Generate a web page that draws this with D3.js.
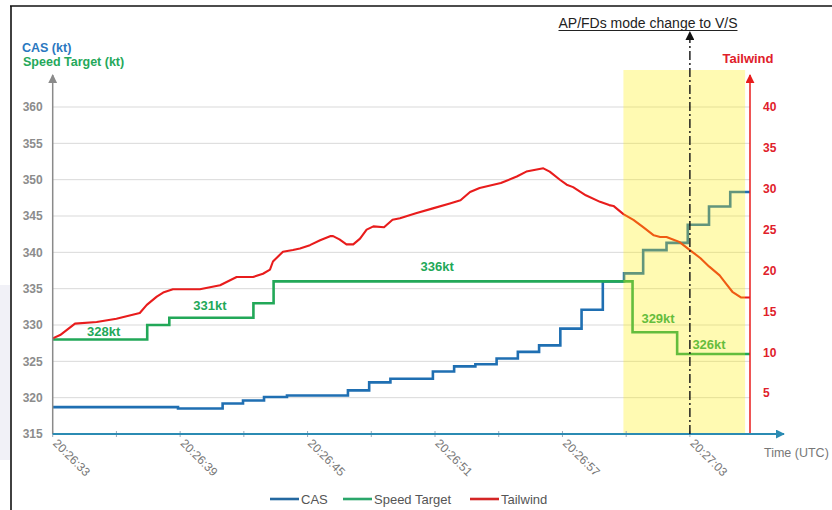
<!DOCTYPE html>
<html>
<head>
<meta charset="utf-8">
<script src="https://cdn.jsdelivr.net/npm/d3@7"></script>
<style>
  html, body { margin: 0; padding: 0; background: #fff; }
  svg { display: block; font-family: "Liberation Sans", Arial, sans-serif; }
</style>
</head>
<body>
<svg id="chart" width="832" height="510"></svg>
<script>
// ---- data (times are seconds after 20:26:33 UTC) ----
const startClock = [20, 26, 33];
const xTickLabels = ["20:26:33", "20:26:39", "20:26:45", "20:26:51", "20:26:57", "20:27:03"];
const xMinorTickSeconds = [0, 3, 6, 9, 12, 15, 18, 21, 24, 27, 30];
const endSeconds = 32.83;

const leftTicks = [315, 320, 325, 330, 335, 340, 345, 350, 355, 360];
const rightTicks = [5, 10, 15, 20, 25, 30, 35, 40];

// calibrated airspeed, step changes
const casTimes  = [0, 5.9, 8.0, 8.96, 9.95, 11.03, 13.9, 14.9, 15.9, 17.9, 18.9, 19.9, 20.9, 21.9, 22.9, 23.9, 24.9, 25.9, 26.9, 27.8, 28.9, 29.9, 30.9, 31.9, 32.83];
const casValues = [318.7, 318.5, 319.2, 319.6, 320.1, 320.3, 321.0, 322.1, 322.6, 323.6, 324.3, 324.6, 325.4, 326.3, 327.2, 329.5, 332.1, 336.0, 337.1, 340.3, 341.3, 343.8, 346.3, 348.3, 348.3];

// selected speed target, step changes
const targetTimes  = [0, 4.45, 5.49, 9.45, 10.4, 27.3, 29.4, 32.83];
const targetValues = [328, 330, 331, 333, 336, 329, 326, 326];

// speed target annotations
const targetLabels = ["328kt", "331kt", "336kt", "329kt", "326kt"];
const targetLabelTimes = [2.4, 7.4, 18.1, 28.5, 30.9];

// tailwind component (kt)
const windTimes = [0, 0.35, 0.7, 1.05, 2.07, 3.0, 4.1, 4.43, 4.9, 5.2, 5.66, 6.93, 7.88, 8.66, 9.43, 9.9, 10.23, 10.37, 10.84, 11.31, 11.64, 12.11, 12.59, 13.06, 13.2, 13.5, 13.83, 14.15, 14.47, 14.78, 15.1, 15.6, 16.0, 16.35, 17.1, 17.9, 18.7, 19.2, 19.65, 20.1, 21.1, 21.85, 22.3, 23.1, 23.4, 23.88, 24.2, 24.5, 25.1, 25.77, 26.2, 26.4, 26.87, 27.34, 27.8, 28.3, 28.6, 28.9, 29.2, 29.5, 30.0, 30.5, 30.9, 31.4, 31.7, 32.0, 32.4, 32.83];
const windValues = [11.7, 12.1, 12.8, 13.5, 13.7, 14.1, 14.8, 15.8, 16.8, 17.3, 17.7, 17.7, 18.2, 19.2, 19.2, 19.6, 20.1, 21.1, 22.3, 22.5, 22.7, 23.1, 23.7, 24.2, 24.2, 23.8, 23.2, 23.2, 23.9, 25.0, 25.4, 25.3, 26.2, 26.4, 27.0, 27.6, 28.2, 28.6, 29.6, 30.1, 30.7, 31.5, 32.1, 32.5, 32.1, 31.1, 30.5, 30.2, 29.2, 28.4, 28.0, 27.9, 26.9, 26.2, 25.3, 24.3, 24.1, 24.1, 23.8, 23.5, 22.5, 21.5, 20.5, 19.4, 18.4, 17.4, 16.7, 16.7];

// highlighted interval and mode-change event
const highlightSeconds = [26.87, 32.6];
const eventSecond = 30.0;
const eventLabel = "AP/FDs mode change to V/S";

const legendNames = ["CAS", "Speed Target", "Tailwind"];

// ---- styling ----
const C = {
  cas: "#1f6fb2", target: "#22a858", wind: "#e81c1c",
  grid: "#d9d9d9", leftAxis: "#8a8a8a", xAxis: "#2b8bb3",
  windText: "#e0202a",
  legendCas: "#2468a0", legendTarget: "#2aa66a", legendWind: "#d42525"
};
const labelLift = [7, 10.7, 14, 12.7, 9];

const svg = d3.select("#chart");
const base = Date.UTC(2000, 0, 1, startClock[0], startClock[1], startClock[2]);
const toDate = s => new Date(base + s * 1000);

const x = d3.scaleUtc().domain([toDate(0), toDate(endSeconds)]).range([52.7, 750]);
const yL = d3.scaleLinear().domain([315, 360]).range([434, 107]);
const yR = d3.scaleLinear().domain([0, 40]).range([434, 107]);

// outer frame and faint page tint
svg.append("rect").attr("x", 0).attr("y", 285).attr("width", 10).attr("height", 175).attr("fill", "#f1f1f7");
svg.append("line").attr("x1", 10).attr("x2", 832).attr("y1", 6).attr("y2", 6).attr("stroke", "#111").attr("stroke-width", 1.6);
svg.append("line").attr("x1", 11).attr("x2", 11).attr("y1", 6).attr("y2", 510).attr("stroke", "#111").attr("stroke-width", 1.6);

// gridlines
svg.append("g").selectAll("line").data(leftTicks.slice(1)).join("line")
  .attr("x1", x.range()[0]).attr("x2", x.range()[1])
  .attr("y1", d => yL(d)).attr("y2", d => yL(d))
  .attr("stroke", C.grid).attr("stroke-width", 1);

// series
const casData = casTimes.map((t, i) => [toDate(t), casValues[i]]);
const targetData = targetTimes.map((t, i) => [toDate(t), targetValues[i]]);
const windData = windTimes.map((t, i) => [toDate(t), windValues[i]]);

const stepLine = d3.line().x(d => x(d[0])).y(d => yL(d[1])).curve(d3.curveStepAfter);
const windLine = d3.line().x(d => x(d[0])).y(d => yR(d[1]));

svg.append("path").datum(casData).attr("d", stepLine)
  .attr("fill", "none").attr("stroke", C.cas).attr("stroke-width", 2.6);
svg.append("path").datum(targetData).attr("d", stepLine)
  .attr("fill", "none").attr("stroke", C.target).attr("stroke-width", 2.6);
svg.append("path").datum(windData).attr("d", windLine)
  .attr("fill", "none").attr("stroke", C.wind).attr("stroke-width", 2.1).attr("stroke-linejoin", "round");

// speed target labels
svg.append("g").selectAll("text").data(targetLabels).join("text")
  .attr("x", (d, i) => x(toDate(targetLabelTimes[i])))
  .attr("y", (d, i) => yL(parseFloat(d)) - labelLift[i])
  .attr("text-anchor", "middle").attr("dominant-baseline", "middle")
  .attr("font-size", 13).attr("font-weight", "bold").attr("fill", C.target)
  .text(d => d);

// highlighted interval
svg.append("rect")
  .attr("x", x(toDate(highlightSeconds[0]))).attr("y", 70)
  .attr("width", x(toDate(highlightSeconds[1])) - x(toDate(highlightSeconds[0])))
  .attr("height", 434 - 70)
  .attr("fill", "#ffee00").attr("opacity", 0.3);

// arrow markers
const defs = svg.append("defs");
function marker(id, color) {
  defs.append("marker").attr("id", id).attr("viewBox", "0 0 10 10")
    .attr("refX", 9).attr("refY", 5).attr("markerWidth", 9).attr("markerHeight", 9)
    .attr("markerUnits", "userSpaceOnUse").attr("orient", "auto")
    .append("path").attr("d", "M0,0 L10,5 L0,10 Z").attr("fill", color);
}
marker("arGray", C.leftAxis);
marker("arRed", C.wind);
marker("arBlue", C.xAxis);
marker("arBlack", "#111");

// x axis ticks
const xTickDates = xTickLabels.map(s => { const p = s.split(":").map(Number); return new Date(Date.UTC(2000, 0, 1, p[0], p[1], p[2])); });
svg.append("g").selectAll("line").data(xMinorTickSeconds).join("line")
  .attr("x1", d => x(toDate(d))).attr("x2", d => x(toDate(d)))
  .attr("y1", 431).attr("y2", 437).attr("stroke", "#9ab").attr("stroke-width", 1);

const fmt = d3.utcFormat("%H:%M:%S");
const xAxis = d3.axisBottom(x).tickValues(xTickDates).tickFormat(fmt).tickSize(0).tickPadding(0);
const gx = svg.append("g").attr("transform", "translate(0,434)").call(xAxis);
gx.select(".domain").remove();
gx.selectAll("text")
  .attr("font-size", 12).attr("fill", "#777").attr("font-family", "Liberation Sans, Arial, sans-serif")
  .attr("text-anchor", "start").attr("dy", 0)
  .attr("transform", "translate(-1,10) rotate(45)");

// left axis
const gl = svg.append("g").attr("transform", "translate(52.7,0)")
  .call(d3.axisLeft(yL).tickValues(leftTicks).tickSize(0).tickPadding(10));
gl.select(".domain").remove();
gl.selectAll("text").attr("font-size", 12).attr("font-weight", "bold").attr("fill", "#8c8c8c")
  .attr("font-family", "Liberation Sans, Arial, sans-serif");

// right axis
const gr = svg.append("g").attr("transform", "translate(750,0)")
  .call(d3.axisRight(yR).tickValues(rightTicks).tickSize(0).tickPadding(13));
gr.select(".domain").remove();
gr.selectAll("text").attr("font-size", 12).attr("font-weight", "bold").attr("fill", C.windText)
  .attr("font-family", "Liberation Sans, Arial, sans-serif");

// axis lines with arrows
svg.append("line").attr("x1", 52.7).attr("x2", 52.7).attr("y1", 434).attr("y2", 75)
  .attr("stroke", C.leftAxis).attr("stroke-width", 1.5).attr("marker-end", "url(#arGray)");
svg.append("line").attr("x1", 750).attr("x2", 750).attr("y1", 434).attr("y2", 75)
  .attr("stroke", C.wind).attr("stroke-width", 1.5).attr("marker-end", "url(#arRed)");
svg.append("line").attr("x1", 52.7).attr("x2", 784).attr("y1", 434).attr("y2", 434)
  .attr("stroke", C.xAxis).attr("stroke-width", 1.8).attr("marker-end", "url(#arBlue)");

// event marker
const ex = x(toDate(eventSecond));
svg.append("line").attr("x1", ex).attr("x2", ex).attr("y1", 434).attr("y2", 32)
  .attr("stroke", "#111").attr("stroke-width", 1.4).attr("stroke-dasharray", "9,3,2,3")
  .attr("marker-end", "url(#arBlack)");
const evText = svg.append("text").attr("x", 648).attr("y", 28).attr("text-anchor", "middle")
  .attr("font-size", 14).attr("fill", "#222").text(eventLabel);
const bb = evText.node().getBBox();
svg.append("line").attr("x1", bb.x).attr("x2", bb.x + bb.width).attr("y1", 30.5).attr("y2", 30.5)
  .attr("stroke", "#222").attr("stroke-width", 1);

// axis titles
svg.append("text").attr("x", 22).attr("y", 51.5).attr("font-size", 12.5).attr("font-weight", "bold")
  .attr("fill", "#2a78c0").text("CAS (kt)");
svg.append("text").attr("x", 23).attr("y", 66).attr("font-size", 12.5).attr("font-weight", "bold")
  .attr("fill", "#25a85a").text("Speed Target (kt)");
svg.append("text").attr("x", 748).attr("y", 63).attr("text-anchor", "middle").attr("font-size", 13)
  .attr("font-weight", "bold").attr("fill", C.windText).text("Tailwind");
svg.append("text").attr("x", 764).attr("y", 457).attr("font-size", 12.5).attr("fill", "#777").text("Time (UTC)");

// legend
const legendColors = [C.legendCas, C.legendTarget, C.legendWind];
const legendX = [270, 343, 470];
const lg = svg.append("g");
legendNames.forEach((n, i) => {
  lg.append("line").attr("x1", legendX[i]).attr("x2", legendX[i] + 29).attr("y1", 499).attr("y2", 499)
    .attr("stroke", legendColors[i]).attr("stroke-width", 2.6);
  lg.append("text").attr("x", legendX[i] + 31).attr("y", 503.5).attr("font-size", 13)
    .attr("fill", "#555").text(n);
});
</script>
</body>
</html>
